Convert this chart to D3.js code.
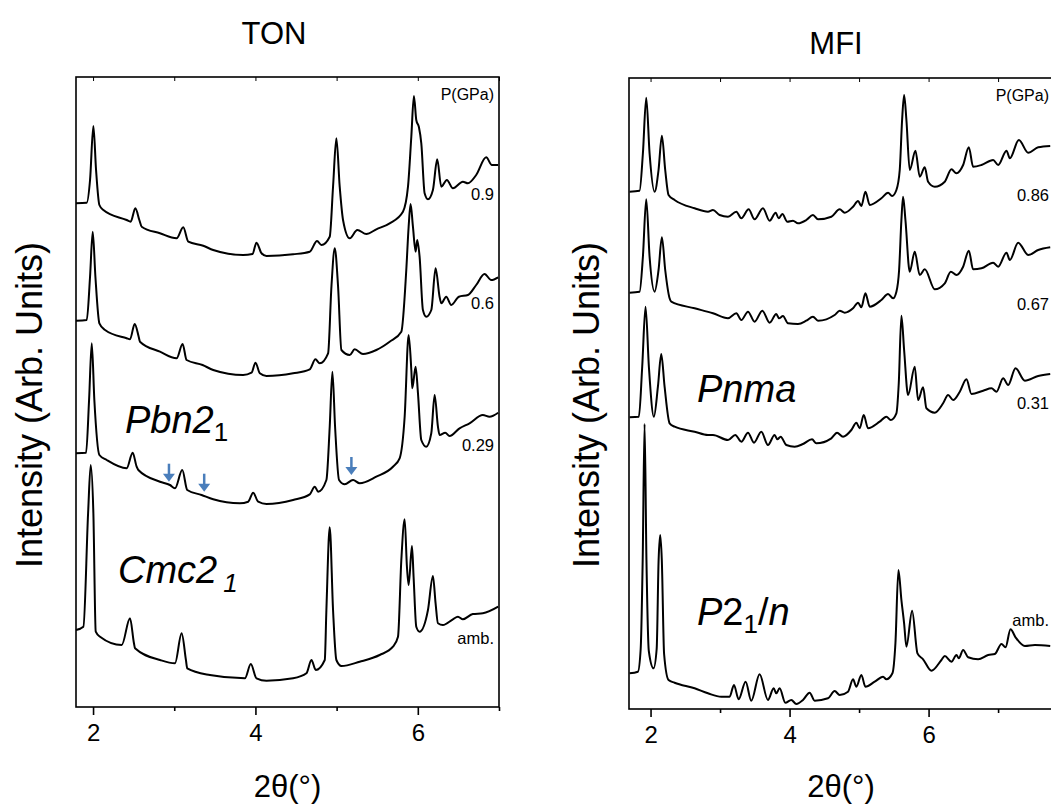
<!DOCTYPE html>
<html>
<head>
<meta charset="utf-8">
<script src="https://cdn.jsdelivr.net/npm/d3@7"></script>
<style>
  body { margin: 0; background: #fff; }
  svg { font-family: "Liberation Sans", Arial, sans-serif; }
</style>
</head>
<body>
<div id="chart"></div>
<script>
// XRD patterns under pressure: [2theta (deg), intensity (arb., stacked)]
const tonPressures = ["0.9", "0.6", "0.29", "amb."];
const mfiPressures = ["0.86", "0.67", "0.31", "amb."];

const ton09 = [[1.79,503.7],[1.922,504.3],[1.963,527],[2.004,581],[2.037,537],[2.078,502],[2.127,497],[2.414,487],[2.463,485.3],[2.521,498.7],[2.57,487],[2.599,480.3],[2.824,473.7],[3.029,468.7],[3.111,479.7],[3.173,465.3],[3.357,461.3],[3.48,457],[3.849,452],[3.964,453],[4.013,464.3],[4.075,453.7],[4.136,451],[4.464,452.7],[4.669,455.3],[4.759,466],[4.813,462],[4.915,470.3],[4.956,520.3],[4.997,568.7],[5.038,520.3],[5.079,487],[5.161,468.7],[5.255,477],[5.366,473],[5.489,477.7],[5.653,483.7],[5.817,495.3],[5.879,520.3],[5.92,570.3],[5.952,611],[5.981,587],[6.014,579.7],[6.043,563.7],[6.084,513.7],[6.125,507.7],[6.186,517],[6.239,547.7],[6.289,520.3],[6.358,527],[6.432,518.7],[6.555,525.3],[6.617,523.7],[6.719,532],[6.842,549.7],[6.912,542],[6.99,542]];
const ton06 = [[1.79,386.3],[1.922,387],[1.963,430.3],[1.996,475.3],[2.029,430.3],[2.078,383.7],[2.148,377],[2.414,368.7],[2.455,367.7],[2.513,383],[2.562,370.3],[2.578,365.3],[2.824,355.3],[3.029,348.7],[3.103,363],[3.152,347],[3.349,342],[3.48,337],[3.849,332],[3.952,334.3],[4.001,344.3],[4.054,333.7],[4.136,331],[4.464,333.7],[4.669,337.7],[4.739,347.7],[4.792,343.7],[4.895,353.7],[4.936,420.3],[4.977,458.7],[5.018,420.3],[5.059,357],[5.161,352],[5.223,357.7],[5.325,353],[5.489,357],[5.653,365.3],[5.797,375.3],[5.858,437],[5.887,480.3],[5.911,503],[5.94,480.3],[5.973,455.3],[5.993,467],[6.022,450.3],[6.063,397],[6.104,390.3],[6.166,397],[6.219,438.7],[6.268,410.3],[6.289,403.7],[6.35,410.3],[6.412,402],[6.506,410.3],[6.617,412],[6.719,422],[6.822,433],[6.904,427],[6.99,429.7]];
const ton029 = [[1.79,253.7],[1.914,254.3],[1.951,307],[1.984,363.7],[2.016,307],[2.078,252],[2.168,247],[2.414,238.7],[2.488,254.3],[2.537,240.3],[2.558,237],[2.824,225.3],[2.947,222],[3.009,218.7],[3.099,237],[3.16,217],[3.337,212],[3.48,207.7],[3.808,203.7],[3.911,205.3],[3.972,214.3],[4.034,205.3],[4.136,203],[4.464,207],[4.669,212.7],[4.731,220.3],[4.772,215.3],[4.874,227],[4.915,280.3],[4.948,335.3],[4.981,280.3],[5.03,227],[5.1,222.7],[5.202,227],[5.284,223.7],[5.489,230.3],[5.694,240.3],[5.776,248.7],[5.838,290.3],[5.887,372],[5.92,337],[5.932,318.7],[5.973,340.3],[6.002,313.7],[6.043,267],[6.104,260.3],[6.166,273.7],[6.207,312],[6.248,280.3],[6.268,272],[6.338,274.3],[6.391,271],[6.514,278.7],[6.637,283.7],[6.801,292],[6.883,290.3],[6.99,294.3]];
const tonAmb = [[1.79,77],[1.881,80.3],[1.939,193.7],[1.971,242],[2.004,193.7],[2.033,75.3],[2.086,70.3],[2.353,62],[2.455,88.7],[2.504,63.7],[2.517,58.7],[2.824,47],[3.009,43.7],[3.091,73.7],[3.144,47],[3.16,38.7],[3.439,32],[3.87,28.7],[3.943,43],[4.013,28.7],[4.136,26.3],[4.464,28.7],[4.628,33.7],[4.69,47],[4.743,37],[4.854,47],[4.874,97],[4.915,179.7],[4.956,97],[4.997,47],[5.059,41],[5.284,45.3],[5.53,52],[5.694,60.3],[5.756,70.3],[5.797,147],[5.838,187.7],[5.866,140.3],[5.887,122],[5.928,161],[5.948,130.3],[5.981,80.3],[6.022,75.3],[6.125,97],[6.186,131],[6.219,103.7],[6.248,83.7],[6.309,82],[6.432,87.7],[6.494,90.3],[6.555,87.7],[6.678,93],[6.801,93.7],[6.99,100.3]];

const mfi086 = [[1.698,517.3],[1.842,518.3],[1.89,555.7],[1.938,611.3],[1.986,555.7],[2.058,517.3],[2.115,539],[2.163,573.3],[2.211,539],[2.259,514],[2.346,509],[2.634,500.7],[2.826,497.3],[2.898,499],[2.994,494],[3.114,492.3],[3.234,497.3],[3.306,490.7],[3.411,499.7],[3.497,489.7],[3.617,500.7],[3.713,488.3],[3.8,496.3],[3.843,490.7],[3.896,495],[3.968,487.3],[4.049,488.3],[4.121,485.7],[4.241,489],[4.337,494],[4.409,489.7],[4.601,492.3],[4.721,499.7],[4.793,496.3],[4.913,502.3],[4.985,508],[5.033,503],[5.091,517.3],[5.154,504],[5.321,510.7],[5.417,516.3],[5.475,513],[5.537,519],[5.585,539],[5.619,589],[5.648,614],[5.681,589],[5.729,539],[5.811,558.3],[5.873,532.3],[5.945,541.7],[5.993,527.3],[6.089,522.3],[6.233,527.3],[6.329,539.7],[6.401,535.7],[6.497,544],[6.579,561.7],[6.641,542.3],[6.761,544],[6.929,549],[7.001,544],[7.121,558.3],[7.169,550.7],[7.299,569],[7.433,556.3],[7.577,561.7],[7.75,563]];
const mfi067 = [[1.698,416.3],[1.842,417.3],[1.89,452.3],[1.938,509.7],[1.986,452.3],[2.058,417.3],[2.115,439],[2.163,471.7],[2.211,439],[2.274,410.7],[2.298,407.3],[2.634,400.7],[2.898,395.7],[3.114,390.7],[3.234,395.7],[3.306,389],[3.402,397.3],[3.497,387.3],[3.608,398.3],[3.713,386.3],[3.809,395],[3.848,390.7],[3.905,393],[3.977,385.7],[4.121,385],[4.241,388.3],[4.337,392.3],[4.409,388.3],[4.649,394],[4.721,398.3],[4.793,396.3],[4.913,400.7],[4.985,406.3],[5.033,401.7],[5.091,415.7],[5.154,402.3],[5.321,409],[5.417,415],[5.489,410.7],[5.537,417.3],[5.576,439],[5.609,489],[5.633,512.3],[5.667,489],[5.729,437.3],[5.801,457.3],[5.873,434],[5.945,439.7],[6.089,419.7],[6.233,425.7],[6.32,437.3],[6.401,434],[6.497,442.3],[6.579,458.3],[6.641,439.7],[6.761,440.7],[6.929,446.3],[7.001,442.3],[7.121,456.3],[7.169,449],[7.289,466.3],[7.433,454],[7.577,459],[7.75,461.7]];
const mfi031 = [[1.698,291.7],[1.832,292.3],[1.88,342.3],[1.928,402.3],[1.976,342.3],[2.048,292.3],[2.106,322.3],[2.154,355],[2.202,322.3],[2.274,285.7],[2.346,282.3],[2.634,277.3],[2.826,274],[2.898,274],[3.114,269],[3.219,274],[3.306,267.3],[3.402,276.3],[3.488,266.3],[3.593,277.3],[3.689,264],[3.785,274],[3.824,269.7],[3.872,272.3],[3.953,264],[4.073,262.3],[4.193,265],[4.323,269.7],[4.385,265.7],[4.601,270.7],[4.683,276.3],[4.769,272.3],[4.889,279],[4.961,286.3],[5.009,280.7],[5.067,294],[5.129,280.7],[5.297,287.3],[5.393,292.3],[5.456,289],[5.537,295.7],[5.571,325.7],[5.609,393.3],[5.648,359],[5.705,314],[5.801,342.3],[5.849,309],[5.921,321.7],[5.969,300.7],[6.089,296.3],[6.209,305.7],[6.281,314],[6.353,309],[6.449,317.3],[6.545,329.7],[6.617,315],[6.785,318.3],[6.905,320.7],[6.977,317.3],[7.073,330.7],[7.145,324],[7.251,340.7],[7.385,328.3],[7.577,333],[7.75,335]];
const mfiAmb = [[1.698,35.7],[1.818,37.3],[1.858,60],[1.887,149],[1.914,285],[1.941,149],[1.975,58],[2.043,40.7],[2.088,60],[2.116,149],[2.139,174],[2.162,149],[2.195,55],[2.259,29],[2.346,26.3],[2.634,20.7],[2.826,15.7],[3.018,12.3],[3.138,12.3],[3.2,24],[3.267,9.7],[3.368,27.3],[3.449,8.3],[3.569,34.7],[3.689,9],[3.771,20.7],[3.809,15.7],[3.857,20.7],[3.939,6.3],[4.025,9],[4.097,5],[4.193,9],[4.289,16.3],[4.361,8.3],[4.553,10.7],[4.649,18],[4.721,14],[4.841,17.3],[4.913,29.7],[4.961,22.3],[5.033,34],[5.091,22.3],[5.225,27.3],[5.345,32.3],[5.393,29.7],[5.48,35.7],[5.523,65.7],[5.566,139],[5.609,109],[5.648,85.7],[5.681,62.3],[5.763,98.3],[5.84,55.7],[5.921,49.7],[6.041,38.3],[6.185,49],[6.233,53],[6.329,47.3],[6.401,54],[6.435,50.7],[6.497,59],[6.569,51.7],[6.713,49.7],[6.857,54],[6.953,55],[7.049,65],[7.107,61.7],[7.179,79.7],[7.251,71.7],[7.385,63],[7.529,64],[7.75,63]];

// new reflections marked in the Pbn2_1 pattern: [2theta, intensity at arrow tip]
const tonArrows = [[2.935,225.3],[3.369,215.3],[5.182,232]];

const majorTicks = [2, 4, 6];
const minorTicks = [3, 5, 7];

// layout
const W = 1051, H = 807;
const font = '"Liberation Sans", Arial, sans-serif';

const svg = d3.select("#chart").append("svg")
    .attr("width", W)
    .attr("height", H);

function drawPanel(p) {
    const x = d3.scaleLinear().domain(p.xDomain).range([p.x0, p.x1]);
    const y = d3.scaleLinear().domain(p.yDomain).range([p.y1, p.y0]);
    const g = svg.append("g");

    const line = d3.line()
        .x(d => x(d[0]))
        .y(d => y(d[1]))
        .curve(d3.curveMonotoneX);

    p.series.forEach(s => {
        g.append("path")
            .datum(s)
            .attr("d", line)
            .attr("fill", "none")
            .attr("stroke", "#000")
            .attr("stroke-width", 2)
            .attr("stroke-linejoin", "round");
    });

    // frame
    g.append("rect")
        .attr("x", p.x0).attr("y", p.y0)
        .attr("width", p.x1 - p.x0).attr("height", p.y1 - p.y0)
        .attr("fill", "none").attr("stroke", "#000").attr("stroke-width", 1.6);

    // bottom axis: major + minor ticks, outward
    const bMajor = g.append("g")
        .attr("transform", "translate(0," + p.y1 + ")")
        .call(d3.axisBottom(x).tickValues(majorTicks).tickSize(8).tickPadding(9).tickFormat(d3.format("d")));
    const bMinor = g.append("g")
        .attr("transform", "translate(0," + p.y1 + ")")
        .call(d3.axisBottom(x).tickValues(minorTicks.filter(v => x(v) <= p.x1 + 1)).tickSize(4).tickFormat(""));
    // top axis: short ticks pointing inward
    const tAx = g.append("g")
        .attr("transform", "translate(0," + p.y0 + ")")
        .call(d3.axisTop(x).tickValues(majorTicks.concat(minorTicks)).tickSize(-4).tickFormat(""));

    [bMajor, bMinor, tAx].forEach(a => {
        a.select(".domain").remove();
        a.selectAll("line").attr("stroke", "#000");
    });
    bMajor.selectAll("line").attr("stroke-width", 1.6);
    bMinor.selectAll("line").attr("stroke-width", 1.6);
    tAx.selectAll("line").attr("stroke-width", 1);
    bMajor.selectAll("text")
        .attr("font-family", font).attr("font-size", 24).attr("fill", "#000");

    // axis titles
    svg.append("text")
        .attr("x", (p.x0 + p.x1) / 2).attr("y", 797)
        .attr("text-anchor", "middle")
        .attr("font-family", font).attr("font-size", 31)
        .text("2θ(°)");
    svg.append("text")
        .attr("transform", "translate(" + p.yLabelX + ",405) rotate(-90)")
        .attr("text-anchor", "middle")
        .attr("font-family", font).attr("font-size", 36)
        .text("Intensity (Arb. Units)");
    svg.append("text")
        .attr("x", p.titleX).attr("y", p.titleY)
        .attr("text-anchor", "middle")
        .attr("font-family", font).attr("font-size", 31)
        .text(p.title);

    // pressure labels
    g.append("text")
        .attr("x", p.labelX).attr("y", p.y0 + 19)
        .attr("text-anchor", "end").attr("dominant-baseline", "middle")
        .attr("font-family", font).attr("font-size", 16)
        .text("P(GPa)");
    p.pressures.forEach((t, i) => {
        g.append("text")
            .attr("x", p.labelX).attr("y", y(p.labelY[i]))
            .attr("text-anchor", "end").attr("dominant-baseline", "middle")
            .attr("font-family", font).attr("font-size", 16.5)
            .text(t);
    });

    return {x, y, g};
}

const ton = drawPanel({
    title: "TON", titleX: 274, titleY: 44,
    x0: 76, x1: 499, y0: 77, y1: 707,
    xDomain: [1.79, 7.0], yDomain: [0, 630],
    series: [ton09, ton06, ton029, tonAmb],
    pressures: tonPressures, labelY: [511, 402, 260, 67], labelX: 494,
    yLabelX: 42
});

const mfi = drawPanel({
    title: "MFI", titleX: 836, titleY: 54,
    x0: 629, x1: 1053, y0: 78, y1: 709,
    xDomain: [1.69, 7.79], yDomain: [0, 631],
    series: [mfi086, mfi067, mfi031, mfiAmb],
    pressures: mfiPressures, labelY: [512, 403, 304, 87], labelX: 1049,
    yLabelX: 599
});

// arrows
tonArrows.forEach(a => {
    const ax = ton.x(a[0]), ay = ton.y(a[1]);
    ton.g.append("line")
        .attr("x1", ax).attr("x2", ax)
        .attr("y1", ay - 18).attr("y2", ay - 6)
        .attr("stroke", "#4a7ebb").attr("stroke-width", 2.5);
    ton.g.append("path")
        .attr("d", `M${ax - 6},${ay - 8}L${ax + 6},${ay - 8}L${ax},${ay}Z`)
        .attr("fill", "#4a7ebb");
});

// space group labels
function groupLabel(px, py, parts) {
    const t = svg.append("text")
        .attr("x", px).attr("y", py)
        .attr("font-family", font).attr("font-size", 38);
    parts.forEach(p => {
        const s = t.append("tspan").text(p.t)
            .attr("font-style", p.italic ? "italic" : "normal");
        if (p.size) s.attr("font-size", p.size);
        if (p.dy) s.attr("dy", p.dy);
        if (p.dx) s.attr("dx", p.dx);
    });
}
groupLabel(125, 433, [{t: "Pbn2", italic: true}, {t: "1", size: 26, dy: 8}]);
groupLabel(118, 583, [{t: "Cmc2", italic: true}, {t: "1", italic: true, size: 26, dy: 9, dx: 6}]);
groupLabel(697, 402, [{t: "Pnma", italic: true}]);
groupLabel(697, 625, [{t: "P", italic: true}, {t: "2"}, {t: "1", size: 26, dy: 8}, {t: "/", dy: -8}, {t: "n", italic: true}]);
</script>
</body>
</html>
